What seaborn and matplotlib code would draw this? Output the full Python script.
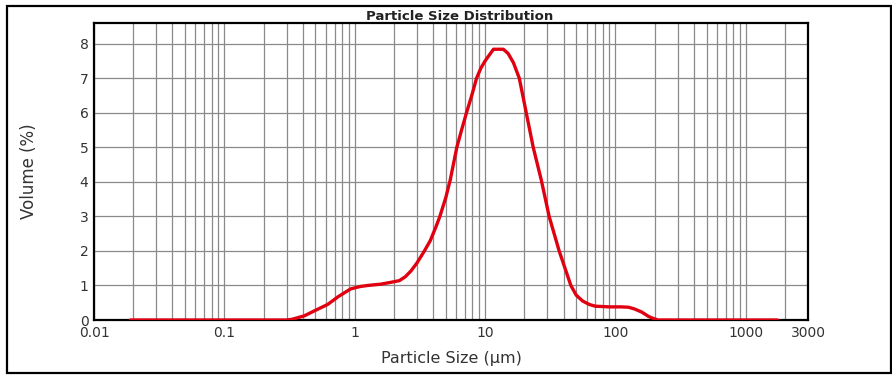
import matplotlib
matplotlib.use("Agg")
import matplotlib.pyplot as plt
import seaborn as sns
import pandas as pd
from matplotlib.patches import Rectangle
from matplotlib.ticker import FixedLocator, LogLocator, NullFormatter

# Particle size classes (µm) and volume (%)
sizes = [0.019, 0.05, 0.1, 0.2, 0.3, 0.33, 0.41, 0.5, 0.62, 0.75, 0.93, 1.1, 1.26,
         1.6, 1.95, 2.2, 2.44, 2.7, 3.0, 3.4, 3.8, 4.2, 4.5, 5.0, 5.4, 6.07, 6.6,
         7.2, 7.9, 8.6, 9.3, 10.0, 11.0, 11.6, 13.8, 15.0, 16.5, 18.3, 20.7, 23.4,
         27.0, 31.0, 37.0, 45.5, 50.0, 56.0, 63.0, 70.0, 90.0, 110.0, 126.0, 140.0,
         159.0, 180.0, 200.0, 213.0, 400.0, 800.0, 1200.0, 1750.0]
volumes = [0.0, 0.0, 0.0, 0.0, 0.0, 0.02, 0.12, 0.28, 0.45, 0.68, 0.9, 0.97, 1.0,
           1.04, 1.1, 1.14, 1.25, 1.42, 1.65, 1.98, 2.3, 2.7, 3.0, 3.55, 4.05, 5.0,
           5.5, 6.0, 6.5, 7.0, 7.3, 7.5, 7.72, 7.84, 7.84, 7.72, 7.45, 7.0, 6.0, 5.0,
           4.05, 3.0, 2.0, 1.0, 0.72, 0.55, 0.45, 0.4, 0.38, 0.38, 0.37, 0.32,
           0.23, 0.1, 0.03, 0.0, 0.0, 0.0, 0.0, 0.0]

x_ticks = [0.01, 0.1, 1, 10, 100, 1000, 3000]
x_tick_labels = ["0.01", "0.1", "1", "10", "100", "1000", "3000"]
y_ticks = [0, 1, 2, 3, 4, 5, 6, 7, 8]

title = "Particle Size Distribution"
x_label = "Particle Size (µm)"
y_label = "Volume (%)"

sns.set_style("white")
plt.rcParams["font.family"] = ["DejaVu Sans"]

W, H = 892, 375
fig = plt.figure(figsize=(W / 100, H / 100), dpi=100)
ax = fig.add_axes([94 / W, 1 - 320 / H, (808 - 94) / W, (320 - 23) / H])

df = pd.DataFrame({"size": sizes, "volume": volumes})
sns.lineplot(data=df, x="size", y="volume", ax=ax, color="#e00010",
             linewidth=2.4, zorder=5)

ax.set_xscale("log")
ax.set_xlim(0.01, 3000)
ax.set_ylim(0, 8.6)

ax.xaxis.set_major_locator(FixedLocator(x_ticks))
ax.set_xticklabels(x_tick_labels)
ax.xaxis.set_minor_locator(LogLocator(base=10, subs=range(2, 10), numticks=20))
ax.xaxis.set_minor_formatter(NullFormatter())
ax.set_yticks(y_ticks)

ax.grid(True, which="major", axis="both", color="#8a8a8a", linewidth=0.9)
ax.grid(True, which="minor", axis="x", color="#8a8a8a", linewidth=0.9)
ax.set_axisbelow(True)
ax.tick_params(axis="both", which="both", length=0, labelsize=10, pad=4,
               colors="#333333")

for s in ax.spines.values():
    s.set_color("black")
    s.set_linewidth(1.6)

ax.set_xlabel(x_label, fontsize=11.5, color="#333333")
ax.set_ylabel(y_label, fontsize=12, color="#333333")
ax.xaxis.set_label_coords(0.5, -0.105)
ax.yaxis.set_label_coords(-0.078, 0.5)

fig.text(460 / W, 1 - 17 / H, title, ha="center", va="center",
         fontsize=9.5, fontweight="bold", color="#222222")

# outer frame of the figure
fig.patches.append(Rectangle((7 / W, 1 - 373 / H), (891 - 7) / W, (373 - 6) / H,
                             transform=fig.transFigure, fill=False,
                             edgecolor="black", linewidth=1.6))

fig.savefig("out.png", dpi=100)
